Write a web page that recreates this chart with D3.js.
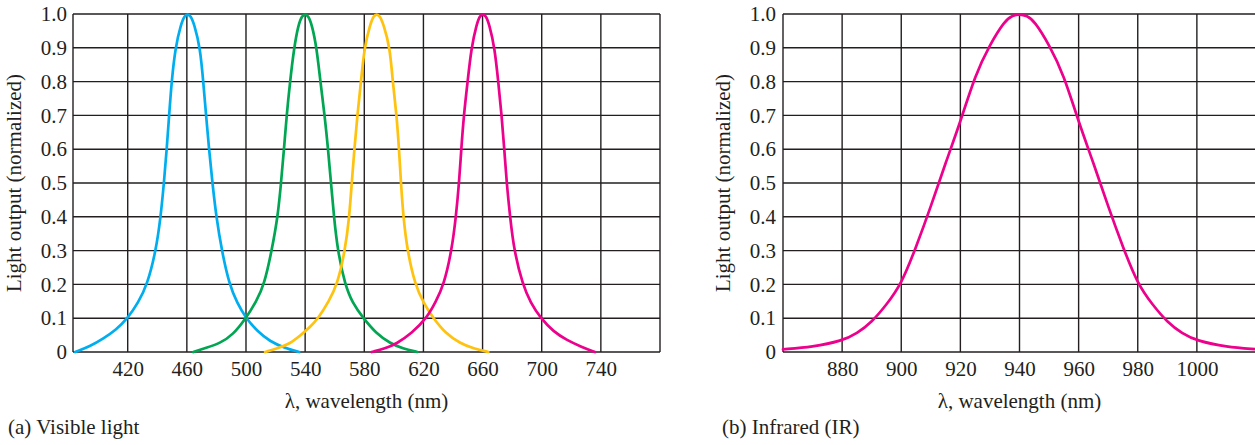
<!DOCTYPE html>
<html>
<head>
<meta charset="utf-8">
<script src="https://cdn.jsdelivr.net/npm/d3@7"></script>
<style>
  html, body { margin: 0; padding: 0; background: #fff; }
  svg { display: block; }
  text { font-family: "Liberation Serif", "Times New Roman", serif; fill: #231f20; }
</style>
</head>
<body>
<svg id="chart" width="1255" height="445"></svg>
<script>
// ---------- DATA ----------
const yTicks = [0, 0.1, 0.2, 0.3, 0.4, 0.5, 0.6, 0.7, 0.8, 0.9, 1.0];
const yTickLabels = ["0", "0.1", "0.2", "0.3", "0.4", "0.5", "0.6", "0.7", "0.8", "0.9", "1.0"];

// (a) Visible light
const visDomain = [383, 780];
const visTicks = [420, 460, 500, 540, 580, 620, 660, 700, 740];

const blueWl  = [384.5, 395, 403.5, 412, 420, 427, 433.3, 439.1, 442.3, 444.5, 446.4, 448, 449.7, 452.2, 456, 458.5, 460.5, 462.5, 465, 469, 471.1, 473, 475, 477.3, 479.9, 483.6, 488.7, 494, 500, 508, 516, 526, 536];
const blueVal = [0, 0.018, 0.04, 0.065, 0.1, 0.145, 0.2, 0.3, 0.4, 0.5, 0.6, 0.7, 0.8, 0.9, 0.97, 0.995, 1.0, 0.995, 0.97, 0.9, 0.8, 0.7, 0.6, 0.5, 0.4, 0.3, 0.2, 0.145, 0.1, 0.06, 0.032, 0.012, 0];

const greenWl  = [464.4, 473, 482.4, 491, 500, 507, 512.4, 517.4, 521.5, 523.7, 525.7, 527.5, 529.8, 532.5, 535.5, 538, 540, 542, 544.5, 547.8, 550.3, 553.2, 555.5, 557.5, 559.5, 562, 566.9, 572, 579.3, 588, 597.4, 606, 615.9];
const greenVal = [0, 0.012, 0.026, 0.05, 0.1, 0.15, 0.2, 0.3, 0.4, 0.5, 0.6, 0.7, 0.8, 0.9, 0.97, 0.995, 1.0, 0.995, 0.97, 0.9, 0.8, 0.7, 0.6, 0.5, 0.4, 0.3, 0.2, 0.145, 0.1, 0.055, 0.026, 0.01, 0];

const yellowWl  = [512.9, 521, 530, 537, 543, 548.9, 556, 561.8, 567, 569.9, 571.5, 573.3, 575.3, 577.8, 580, 584, 586.4, 588.4, 590.4, 593, 597.4, 599.2, 601.9, 603.5, 604.8, 606.4, 609.1, 614.3, 620, 626.7, 635, 644.7, 654, 663.9];
const yellowVal = [0, 0.01, 0.025, 0.05, 0.072, 0.1, 0.15, 0.2, 0.3, 0.4, 0.5, 0.6, 0.7, 0.8, 0.9, 0.97, 0.995, 1.0, 0.995, 0.97, 0.9, 0.8, 0.7, 0.6, 0.5, 0.4, 0.3, 0.2, 0.145, 0.1, 0.055, 0.026, 0.01, 0];

const magentaWl  = [585, 594, 602, 612, 622.2, 628.5, 633.9, 639.1, 642, 644.1, 645.6, 647.3, 649.9, 652.4, 656, 658.2, 660.2, 662.2, 664.5, 668.2, 670.6, 672.9, 674.7, 676.3, 678.6, 681.3, 687.1, 692.5, 699.3, 708, 717, 727, 736];
const magentaVal = [0, 0.01, 0.025, 0.055, 0.1, 0.15, 0.2, 0.3, 0.4, 0.5, 0.6, 0.7, 0.8, 0.9, 0.97, 0.995, 1.0, 0.995, 0.97, 0.9, 0.8, 0.7, 0.6, 0.5, 0.4, 0.3, 0.2, 0.145, 0.1, 0.06, 0.035, 0.015, 0];

// (b) Infrared
const irDomain = [860, 1020];
const irTicks = [880, 900, 920, 940, 960, 980, 1000];
const irWl  = [860, 870, 880, 885, 890, 895, 900, 905, 910, 915, 920, 925, 930, 935, 937.5, 940, 942.5, 945, 950, 955, 960, 965, 970, 975, 980, 985, 990, 995, 1000, 1010, 1020];
const irVal = [0.008, 0.015, 0.033, 0.055, 0.088, 0.14, 0.2, 0.31, 0.43, 0.56, 0.68, 0.82, 0.91, 0.98, 0.995, 1.0, 0.995, 0.98, 0.91, 0.82, 0.68, 0.56, 0.43, 0.31, 0.2, 0.14, 0.088, 0.055, 0.033, 0.015, 0.008];

const colors = { blue: "#00aeef", green: "#00a651", yellow: "#ffc20e", magenta: "#ec008c" };

// ---------- DRAW ----------
const svg = d3.select("#chart");
const INK = "#231f20";
const FS = 21;

function panel(opts) {
  const x = d3.scaleLinear().domain(opts.domain).range(opts.xRange);
  const y = d3.scaleLinear().domain([0, 1]).range([352, 14]);
  const g = svg.append("g");

  // horizontal grid
  g.selectAll("line.h").data(yTicks).enter().append("line")
    .attr("x1", opts.xRange[0]).attr("x2", opts.xRange[1])
    .attr("y1", d => y(d)).attr("y2", d => y(d))
    .attr("stroke", INK).attr("stroke-width", 1.4);
  // vertical grid
  g.selectAll("line.v").data(opts.ticks.concat(opts.domain)).enter().append("line")
    .attr("x1", d => x(d)).attr("x2", d => x(d))
    .attr("y1", y(0)).attr("y2", y(1))
    .attr("stroke", INK).attr("stroke-width", 1.4);

  // axes (labels only)
  const ax = g.append("g").attr("transform", `translate(0,${y(0)})`)
    .call(d3.axisBottom(x).tickValues(opts.ticks).tickSize(0).tickPadding(9).tickFormat(d3.format("d")));
  ax.select(".domain").remove();
  ax.selectAll("text").attr("font-size", FS).attr("font-family", "Liberation Serif").attr("fill", INK);

  const ay = g.append("g").attr("transform", `translate(${opts.xRange[0]},0)`)
    .call(d3.axisLeft(y).tickValues(yTicks).tickSize(0).tickPadding(opts.yPad)
      .tickFormat((d, i) => yTickLabels[i]));
  ay.select(".domain").remove();
  ay.selectAll("text").attr("font-size", FS).attr("font-family", "Liberation Serif").attr("fill", INK);

  // curves
  const line = d3.line().x(d => x(d[0])).y(d => y(d[1])).curve(d3.curveBasis);
  opts.series.forEach(s => {
    const pts = s.wl.map((w, i) => [w, s.val[i]]);
    g.append("path").attr("d", line(pts))
      .attr("fill", "none").attr("stroke", s.color).attr("stroke-width", 2.7)
      .attr("stroke-linejoin", "round").attr("stroke-linecap", "round");
  });

  // titles
  const cx = (opts.xRange[0] + opts.xRange[1]) / 2;
  g.append("text").attr("x", cx).attr("y", 408).attr("text-anchor", "middle")
    .attr("font-size", FS).text("λ, wavelength (nm)");
  g.append("text").attr("transform", `translate(${opts.yTitleX},183) rotate(-90)`)
    .attr("text-anchor", "middle").attr("font-size", FS).text("Light output (normalized)");
  g.append("text").attr("x", opts.capX).attr("y", 434)
    .attr("font-size", FS).text(opts.caption);
}

panel({
  domain: visDomain, xRange: [73, 660], ticks: visTicks, yPad: 6,
  yTitleX: 21, capX: 8, caption: "(a) Visible light",
  series: [
    { wl: blueWl, val: blueVal, color: colors.blue },
    { wl: greenWl, val: greenVal, color: colors.green },
    { wl: yellowWl, val: yellowVal, color: colors.yellow },
    { wl: magentaWl, val: magentaVal, color: colors.magenta }
  ]
});

panel({
  domain: irDomain, xRange: [783, 1256], ticks: irTicks, yPad: 7,
  yTitleX: 730, capX: 722, caption: "(b) Infrared (IR)",
  series: [ { wl: irWl, val: irVal, color: colors.magenta } ]
});
</script>
</body>
</html>
